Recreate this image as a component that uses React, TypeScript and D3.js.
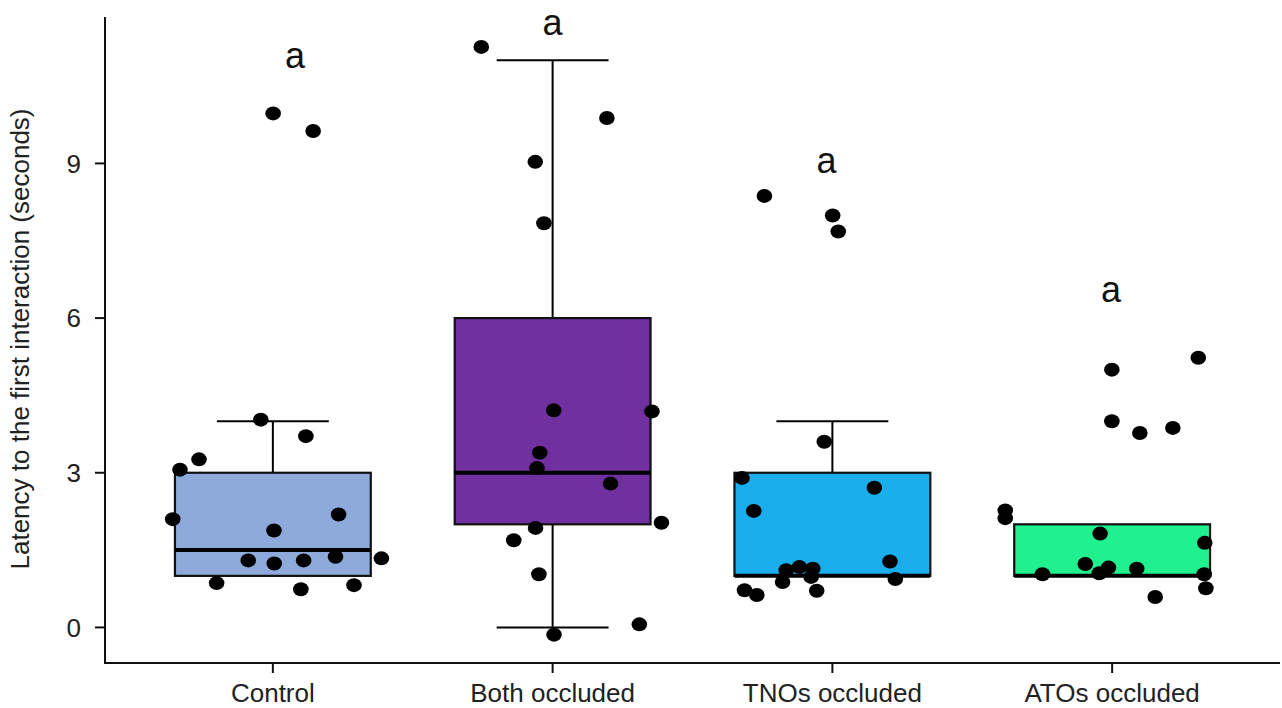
import React from "react";
import * as d3 from "d3";

// Groups and box statistics (seconds)
const categories = ["Control", "Both occluded", "TNOs occluded", "ATOs occluded"];
const boxFill = ["#8eaadb", "#7030a0", "#1aaeec", "#20f08e"];
const q1 = [1, 2, 1, 1];
const median = [1.5, 3, 1, 1];
const q3 = [3, 6, 3, 2];
const whiskerLow = [1, 0, 1, 1];
const whiskerHigh = [4, 11, 4, 2];

// Significance letters: [letter, value, horizontal shift in group steps]
const letters: [string, number, number][] = [
  ["a", 10.85, 0.079],
  ["a", 11.5, 0],
  ["a", 8.82, -0.021],
  ["a", 6.32, -0.004],
];

// Individual observations: [jitter in group steps, latency]
const controlPts: [number, number][] = [
  [-0.043, 4.03], [0.118, 3.71], [-0.264, 3.26], [-0.332, 3.06], [-0.358, 2.1],
  [0.235, 2.19], [0.004, 1.88], [-0.088, 1.3], [0.005, 1.24], [0.11, 1.3],
  [0.224, 1.37], [0.388, 1.34], [-0.201, 0.86], [0.1, 0.74], [0.29, 0.82],
  [0.001, 9.97], [0.144, 9.63],
];
const bothPts: [number, number][] = [
  [-0.255, 11.26], [0.194, 9.88], [-0.062, 9.03], [-0.031, 7.84], [0.004, 4.21],
  [0.355, 4.19], [-0.046, 3.39], [-0.056, 3.09], [0.207, 2.79], [-0.061, 1.93],
  [0.389, 2.03], [-0.139, 1.69], [-0.049, 1.03], [0.31, 0.06], [0.005, -0.14],
];
const tnoPts: [number, number][] = [
  [-0.243, 8.37], [0.001, 7.99], [0.021, 7.68], [-0.029, 3.6], [-0.323, 2.9],
  [0.15, 2.71], [-0.281, 2.26], [0.206, 1.28], [0.225, 0.94], [-0.165, 1.11],
  [-0.118, 1.17], [-0.07, 1.14], [-0.178, 0.88], [-0.076, 0.98], [-0.056, 0.71],
  [-0.314, 0.72], [-0.27, 0.63],
];
const atoPts: [number, number][] = [
  [-0.001, 5.0], [0.308, 5.23], [-0.001, 4.0], [0.099, 3.77], [0.217, 3.87],
  [-0.382, 2.27], [-0.382, 2.12], [-0.043, 1.82], [0.331, 1.64], [-0.096, 1.23],
  [-0.013, 1.16], [-0.046, 1.05], [0.088, 1.14], [-0.249, 1.03], [0.329, 1.03],
  [0.335, 0.76], [0.154, 0.59],
];
const groupPoints = [controlPts, bothPts, tnoPts, atoPts];

const yTicks = [0, 3, 6, 9];

const W = 1282;
const H = 708;
const left = 105;
const right = 1280;
const top = 17;
const bottom = 663;
const font = "'Liberation Sans', Arial, sans-serif";

export default function App() {
  const x = d3.scalePoint<string>().domain(categories).range([left, right]).padding(0.6);
  const step = x.step();
  const y = d3.scaleLinear().domain([-0.69, 11.84]).range([bottom, top]);
  const boxHalf = step * 0.35;
  const capHalf = step * 0.2;

  return (
    <svg
      width={W}
      height={H}
      style={{ position: "absolute", left: 0, top: 0, background: "#fff" }}
      fontFamily={font}
    >
      {/* boxes with whiskers */}
      {categories.map((c, i) => {
        const cx = x(c)!;
        return (
          <g key={c}>
            {whiskerHigh[i] > q3[i] && (
              <g stroke="#000" strokeWidth={2}>
                <line x1={cx} x2={cx} y1={y(q3[i])} y2={y(whiskerHigh[i])} />
                <line x1={cx - capHalf} x2={cx + capHalf} y1={y(whiskerHigh[i])} y2={y(whiskerHigh[i])} />
              </g>
            )}
            {whiskerLow[i] < q1[i] && (
              <g stroke="#000" strokeWidth={2}>
                <line x1={cx} x2={cx} y1={y(q1[i])} y2={y(whiskerLow[i])} />
                <line x1={cx - capHalf} x2={cx + capHalf} y1={y(whiskerLow[i])} y2={y(whiskerLow[i])} />
              </g>
            )}
            <rect
              x={cx - boxHalf}
              y={y(q3[i])}
              width={boxHalf * 2}
              height={y(q1[i]) - y(q3[i])}
              fill={boxFill[i]}
              stroke="#111"
              strokeWidth={2.2}
            />
            <line
              x1={cx - boxHalf}
              x2={cx + boxHalf}
              y1={y(median[i])}
              y2={y(median[i])}
              stroke="#000"
              strokeWidth={4}
            />
          </g>
        );
      })}

      {/* jittered observations */}
      {categories.map((c, i) => (
        <g key={c + "-pts"} fill="#000">
          {groupPoints[i].map(([j, v], k) => (
            <ellipse key={k} cx={x(c)! + j * step} cy={y(v)} rx={7.8} ry={7} />
          ))}
        </g>
      ))}

      {/* significance letters */}
      {categories.map((c, i) => (
        <text
          key={c + "-lt"}
          x={x(c)! + letters[i][2] * step}
          y={y(letters[i][1])}
          textAnchor="middle"
          fontSize={36}
          fill="#111"
        >
          {letters[i][0]}
        </text>
      ))}

      {/* axes */}
      <path d={`M${left},${top}V${bottom}H${right}`} fill="none" stroke="#111" strokeWidth={2} />
      {yTicks.map((t) => (
        <g key={"yt" + t}>
          <line x1={left - 10} x2={left} y1={y(t)} y2={y(t)} stroke="#111" strokeWidth={2} />
          <text x={left - 24} y={y(t)} dy="0.36em" textAnchor="end" fontSize={26} fill="#222">
            {t}
          </text>
        </g>
      ))}
      {categories.map((c) => (
        <g key={c + "-xt"}>
          <line x1={x(c)!} x2={x(c)!} y1={bottom} y2={bottom + 10} stroke="#111" strokeWidth={2} />
          <text x={x(c)!} y={702} textAnchor="middle" fontSize={26} fill="#222">
            {c}
          </text>
        </g>
      ))}
      <text
        transform={`translate(29,339) rotate(-90)`}
        textAnchor="middle"
        fontSize={26}
        fill="#222"
      >
        Latency to the first interaction (seconds)
      </text>
    </svg>
  );
}
